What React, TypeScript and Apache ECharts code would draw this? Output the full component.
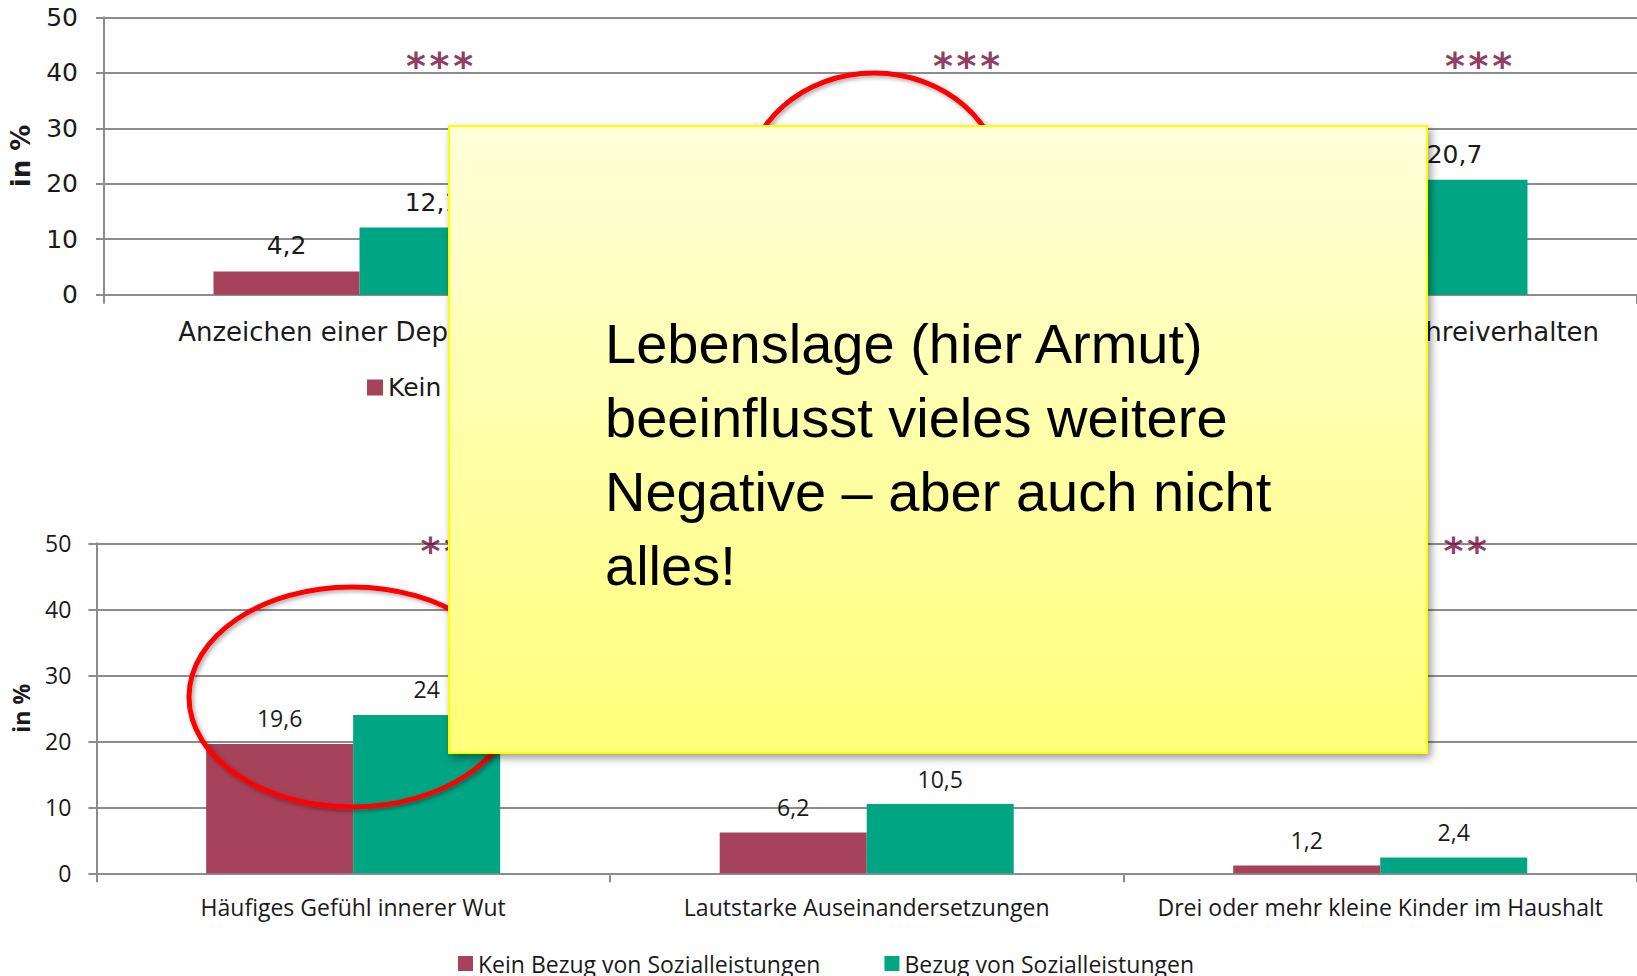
import React, { useEffect, useRef } from 'react';
import * as echarts from 'echarts';

// ---------- data ----------
const seriesNames = ['Kein Bezug von Sozialleistungen', 'Bezug von Sozialleistungen'];

const topCategories = [
  'Anzeichen einer Depression',
  'Hohe elterliche Stressbelastung',
  'Kind mit starkem Schreiverhalten',
];
const topNoBenefits = [4.2, 8.9, 9.3];
const topBenefits = [12.1, 20.1, 20.7];
const topSignificance = ['***', '***', '***'];

const bottomCategories = [
  'Häufiges Gefühl innerer Wut',
  'Lautstarke Auseinandersetzungen',
  'Drei oder mehr kleine Kinder im Haushalt',
];
const bottomNoBenefits = [19.6, 6.2, 1.2];
const bottomBenefits = [24, 10.5, 2.4];
const bottomSignificance = ['**', '**', '**'];

const yMin = 0;
const yMax = 50;
const yInterval = 10;
const yAxisName = 'in %';

const calloutLines = [
  'Lebenslage (hier Armut)',
  'beeinflusst vieles weitere',
  'Negative – aber auch nicht',
  'alles!',
];

// ---------- layout / style ----------
const RED = '#A6425A';
const GREEN = '#00A583';
const GRID_COLOR = '#8c8c8c';
const TEXT = '#1a1a1a';
const SIG_COLOR = '#720838';
const TOP_FONT = '"DejaVu Sans", Verdana, sans-serif';
const BOTTOM_FONT = '"Open Sans", "Noto Sans", sans-serif';
const TOP_SIG_Y = 41.3;
const BOTTOM_SIG_Y = 48.8;
const topSigOffsets = [80, 96, 97];
const bottomSigOffsets = [89, 90, 85];

const fmt = (v: number) => String(v).replace('.', ',');
const spaced = (s: string) => s.split('').join('\u200A');

export default function App() {
  const ref = useRef<HTMLDivElement>(null);

  useEffect(() => {
    if (!ref.current) return;
    const chart = echarts.init(ref.current, undefined, { renderer: 'svg' });

    const axisLine = { show: true, lineStyle: { color: GRID_COLOR, width: 2 } };

    const makeX = (gridIndex: number, data: string[], font: string, size: number, margin: number) => ({
      type: 'category',
      gridIndex,
      data,
      axisLine,
      axisTick: { show: true, length: 9, lineStyle: { color: GRID_COLOR, width: 2 } },
      axisLabel: { interval: 0, margin, fontFamily: font, fontSize: size, color: TEXT },
    });

    const makeY = (gridIndex: number, font: string, size: number, margin: number, nameGap: number, nameSize: number) => ({
      type: 'value',
      gridIndex,
      min: yMin,
      max: yMax,
      interval: yInterval,
      axisLine,
      axisTick: { show: true, length: 8, lineStyle: { color: GRID_COLOR, width: 2 } },
      splitLine: { show: true, lineStyle: { color: GRID_COLOR, width: 2 } },
      axisLabel: { margin, fontFamily: font, fontSize: size, color: TEXT },
      name: yAxisName,
      nameLocation: 'middle',
      nameRotate: 90,
      nameGap,
      nameTextStyle: { fontFamily: font, fontWeight: 'bold', fontSize: nameSize, color: TEXT },
    });

    const makeBar = (
      name: string,
      data: number[],
      color: string,
      idx: number,
      width: number,
      font: string,
      size: number,
      dist: number
    ) => ({
      type: 'bar',
      name,
      xAxisIndex: idx,
      yAxisIndex: idx,
      data,
      barWidth: width,
      barGap: '0%',
      itemStyle: { color },
      label: {
        show: true,
        position: 'top',
        distance: dist,
        fontFamily: font,
        fontSize: size,
        color: TEXT,
        formatter: (p: any) => fmt(p.value),
      },
    });

    const makeSig = (idx: number, sig: string[], y: number, offsets: number[]) => ({
      type: 'scatter',
      xAxisIndex: idx,
      yAxisIndex: idx,
      silent: true,
      symbol: 'circle',
      symbolSize: 1,
      itemStyle: { color: 'rgba(0,0,0,0)' },
      z: 5,
      data: sig.map((s, i) => ({
        value: [i, y],
        label: { offset: [offsets[i], 0] },
      })),
      label: {
        show: true,
        position: 'inside',
        formatter: (p: any) => spaced(sig[p.dataIndex]),
        fontFamily: '"DejaVu Sans", sans-serif',
        fontWeight: 'bold',
        fontSize: 38,
        color: SIG_COLOR,
      },
    });

    chart.setOption({
      animation: false,
      backgroundColor: '#ffffff',
      grid: [
        { left: 104, top: 17.3, width: 1539, height: 277.4 },
        { left: 96.4, top: 543.3, width: 1546, height: 330 },
      ],
      xAxis: [
        makeX(0, topCategories, TOP_FONT, 26, 24),
        makeX(1, bottomCategories, BOTTOM_FONT, 23, 22),
      ],
      yAxis: [
        makeY(0, TOP_FONT, 25, 26, 70, 26),
        makeY(1, BOTTOM_FONT, 23, 25, 64, 23),
      ],
      legend: [
        {
          data: seriesNames,
          left: 362,
          top: 370,
          icon: 'rect',
          itemWidth: 16,
          itemHeight: 16,
          itemGap: 40,
          selectedMode: false,
          textStyle: { fontFamily: TOP_FONT, fontSize: 25, color: TEXT },
        },
        {
          data: seriesNames,
          left: 453,
          top: 947,
          icon: 'rect',
          itemWidth: 15,
          itemHeight: 15,
          itemGap: 64,
          selectedMode: false,
          textStyle: { fontFamily: BOTTOM_FONT, fontSize: 23, color: TEXT },
        },
      ],
      series: [
        makeBar(seriesNames[0], topNoBenefits, RED, 0, 146, TOP_FONT, 25, 13),
        makeBar(seriesNames[1], topBenefits, GREEN, 0, 146, TOP_FONT, 25, 13),
        makeBar(seriesNames[0], bottomNoBenefits, RED, 1, 147, BOTTOM_FONT, 23, 14),
        makeBar(seriesNames[1], bottomBenefits, GREEN, 1, 147, BOTTOM_FONT, 23, 14),
        makeSig(0, topSignificance, TOP_SIG_Y, topSigOffsets),
        makeSig(1, bottomSignificance, BOTTOM_SIG_Y, bottomSigOffsets),
      ],
      graphic: [
        {
          type: 'ellipse',
          z: 100,
          shape: { cx: 874, cy: 185, rx: 128, ry: 112 },
          style: {
            fill: 'none',
            stroke: '#FF0000',
            lineWidth: 5,
            shadowBlur: 4,
            shadowOffsetX: 2,
            shadowOffsetY: 2,
            shadowColor: 'rgba(0,0,0,0.35)',
          },
        },
        {
          type: 'ellipse',
          z: 100,
          shape: { cx: 352, cy: 697, rx: 163, ry: 110 },
          style: {
            fill: 'none',
            stroke: '#FF0000',
            lineWidth: 5,
            shadowBlur: 4,
            shadowOffsetX: 2,
            shadowOffsetY: 2,
            shadowColor: 'rgba(0,0,0,0.35)',
          },
        },
        {
          type: 'rect',
          z: 110,
          shape: { x: 449, y: 126, width: 978, height: 627 },
          style: {
            fill: {
              type: 'linear',
              x: 0,
              y: 0,
              x2: 0,
              y2: 1,
              colorStops: [
                { offset: 0, color: '#FFFFDA' },
                { offset: 1, color: '#FFFF78' },
              ],
            },
            stroke: '#FFFF00',
            lineWidth: 2,
            shadowBlur: 8,
            shadowOffsetX: 3,
            shadowOffsetY: 4,
            shadowColor: 'rgba(0,0,0,0.4)',
          },
        },
        {
          type: 'text',
          z: 120,
          x: 605,
          y: 306,
          style: {
            text: calloutLines.join('\n'),
            fontFamily: '"Liberation Sans", Arial, sans-serif',
            fontSize: 56,
            lineHeight: 74,
            fill: '#000000',
          },
        },
      ],
    });

    return () => chart.dispose();
  }, []);

  return (
    <div
      ref={ref}
      style={{ position: 'fixed', left: 0, top: 0, width: 1637, height: 976, background: '#fff' }}
    />
  );
}
